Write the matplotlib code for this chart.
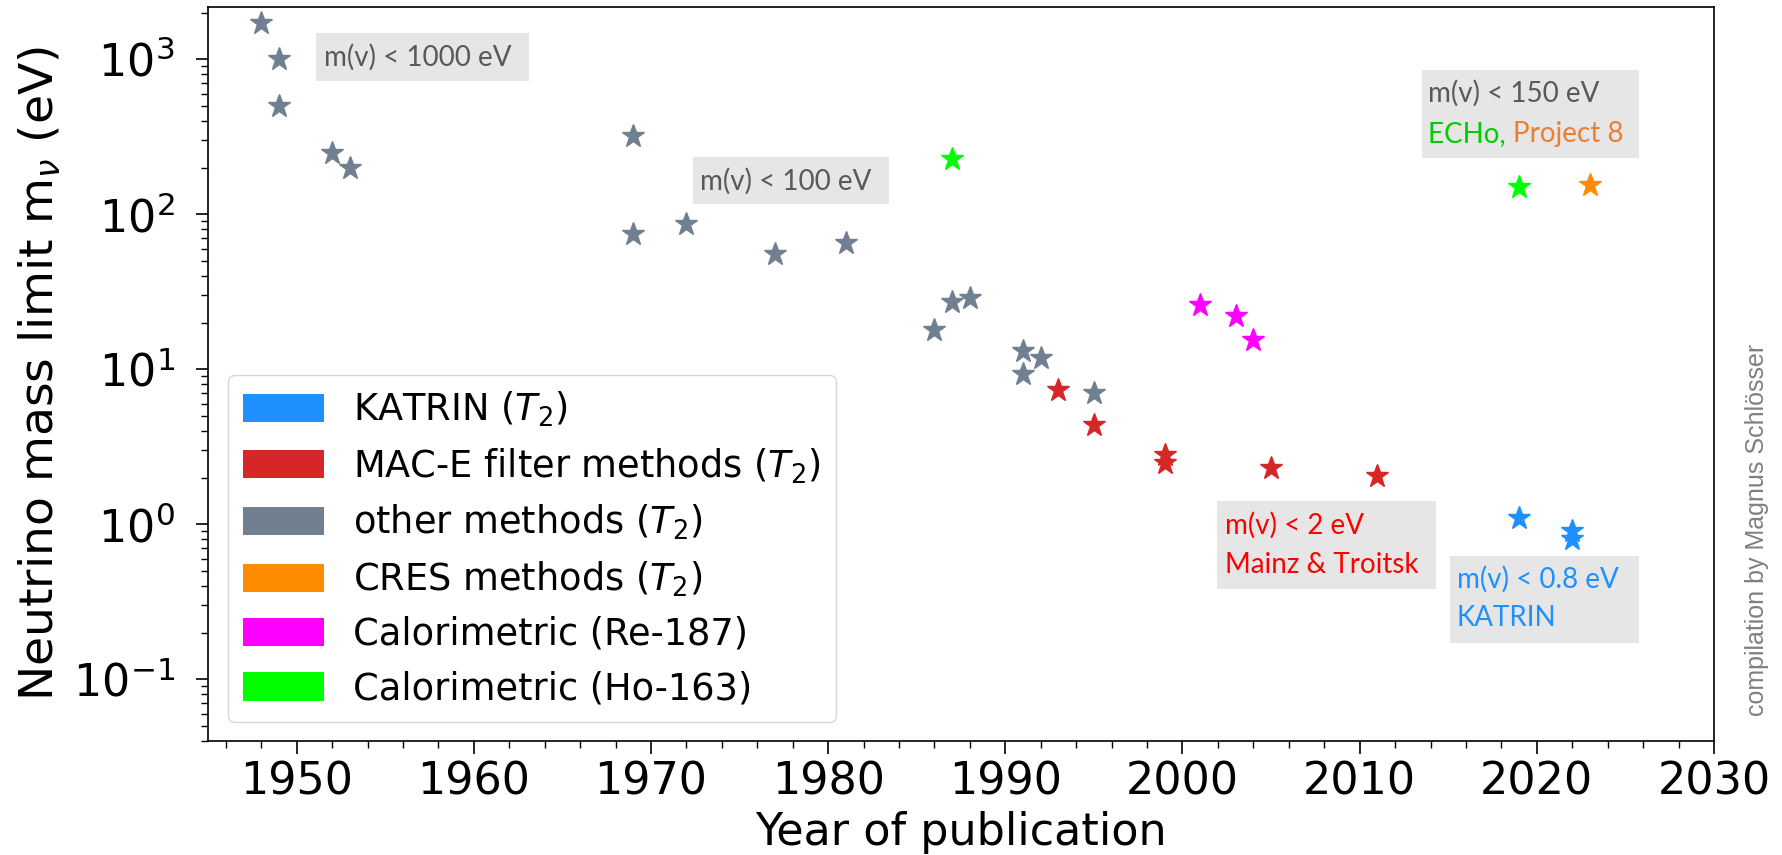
import matplotlib
matplotlib.use("Agg")
import matplotlib.pyplot as plt
from matplotlib.patches import Patch, Rectangle
from matplotlib.ticker import MultipleLocator

# -----------------------------------------------------------
# Neutrino mass limits by method (year, upper limit in eV)
# -----------------------------------------------------------
katrin_year = [2019, 2022, 2022]
katrin_mass = [1.1, 0.9, 0.8]

mace_year = [1993, 1995, 1999, 1999, 2005, 2011]
mace_mass = [7.3, 4.35, 2.8, 2.5, 2.3, 2.05]

other_year = [1948, 1949, 1949, 1952, 1953, 1969, 1969, 1972, 1977, 1981,
              1986, 1987, 1988, 1991, 1991, 1992, 1995]
other_mass = [1700, 1000, 500, 250, 200, 320, 75, 86, 55, 65,
              18, 27, 29, 13.2, 9.3, 11.9, 7.0]

cres_year = [2023]
cres_mass = [155]

re_year = [2001, 2003, 2004]
re_mass = [26, 22, 15.5]

ho_year = [1987, 2019]
ho_mass = [226, 150]

series = [
    ("KATRIN ($T_2$)", "#1E90FF", katrin_year, katrin_mass),
    ("MAC-E filter methods ($T_2$)", "#D62728", mace_year, mace_mass),
    ("other methods ($T_2$)", "#708090", other_year, other_mass),
    ("CRES methods ($T_2$)", "#FF8C00", cres_year, cres_mass),
    ("Calorimetric (Re-187)", "#FF00FF", re_year, re_mass),
    ("Calorimetric (Ho-163)", "#00FF00", ho_year, ho_mass),
]

# -----------------------------------------------------------
# Plot
# -----------------------------------------------------------
fig = plt.figure(figsize=(17.83, 8.55), dpi=100)
ax = fig.add_axes([0.1167, 0.1333, 0.8446, 0.8585])

handles = []
for label, color, years, masses in series:
    ax.plot(years, masses, "*", color=color, markersize=17, linestyle="none")
    handles.append(Patch(facecolor=color, label=label))

ax.set_yscale("log")
ax.set_xlim(1945, 2030)
ax.set_ylim(0.04, 2170)
ax.xaxis.set_major_locator(MultipleLocator(10))
ax.xaxis.set_minor_locator(MultipleLocator(2))
ax.tick_params(axis="both", which="major", labelsize=32, length=9, width=1.2)
ax.tick_params(axis="both", which="minor", length=5, width=1)
ax.tick_params(axis="y", which="major", pad=15)
ax.tick_params(axis="x", which="major", pad=5)
for s in ax.spines.values():
    s.set_linewidth(1.2)

ax.set_xlabel("Year of publication", fontsize=32)
ax.set_ylabel(r"Neutrino mass limit m$_\nu$ (eV)", fontsize=34)
ax.xaxis.set_label_coords(0.5, -0.096)
ax.yaxis.set_label_coords(-0.0963, 0.5)

ax.legend(handles=handles, loc="lower left", fontsize=26.5, handlelength=2.2,
          handleheight=0.8, labelspacing=0.47, borderpad=0.4,
          borderaxespad=0, bbox_to_anchor=(0.0133, 0.0259))

# -----------------------------------------------------------
# Grey annotation boxes
# -----------------------------------------------------------
box_color = "#E6E6E6"
font = "Lato"
fs = 20


def box(x0, x1, y0, y1):
    ax.add_patch(Rectangle((x0, y0), x1 - x0, y1 - y0, transform=ax.transAxes,
                           facecolor=box_color, edgecolor="none", zorder=1))


box(0.0717, 0.2131, 0.899, 0.9646)
ax.text(0.077, 0.931, "m(v) < 1000 eV", transform=ax.transAxes, fontsize=fs,
        family=font, color="#595959", va="center", zorder=2)

box(0.322, 0.452, 0.7316, 0.7956)
ax.text(0.3267, 0.763, "m(v) < 100 eV", transform=ax.transAxes, fontsize=fs,
        family=font, color="#595959", va="center", zorder=2)

box(0.806, 0.950, 0.794, 0.914)
ax.text(0.810, 0.882, "m(v) < 150 eV", transform=ax.transAxes, fontsize=fs,
        family=font, color="#595959", va="center", zorder=2)
t = ax.text(0.810, 0.827, "ECHo, ", transform=ax.transAxes, fontsize=fs,
            family=font, color="#00CC00", va="center", zorder=2)
ax.annotate("Project 8", xycoords=t, xy=(1, 0.5), va="center", fontsize=fs,
            family=font, color="#ED7D31", zorder=2)

box(0.670, 0.8154, 0.207, 0.327)
ax.text(0.675, 0.294, "m(v) < 2 eV", transform=ax.transAxes, fontsize=fs,
        family=font, color="#FF0000", va="center", zorder=2)
ax.text(0.675, 0.240, "Mainz & Troitsk", transform=ax.transAxes, fontsize=fs,
        family=font, color="#FF0000", va="center", zorder=2)

box(0.8247, 0.9502, 0.1335, 0.252)
ax.text(0.8293, 0.2207, "m(v) < 0.8 eV", transform=ax.transAxes, fontsize=fs,
        family=font, color="#1E90FF", va="center", zorder=2)
ax.text(0.8293, 0.1676, "KATRIN", transform=ax.transAxes, fontsize=fs,
        family=font, color="#1E90FF", va="center", zorder=2)

# credit along the right edge
fig.text(0.9855, 0.38, "compilation by Magnus Schlösser", rotation=90,
         fontsize=18, family="Liberation Sans", color="#808080",
         ha="center", va="center")

fig.savefig("out.png", dpi=100)
